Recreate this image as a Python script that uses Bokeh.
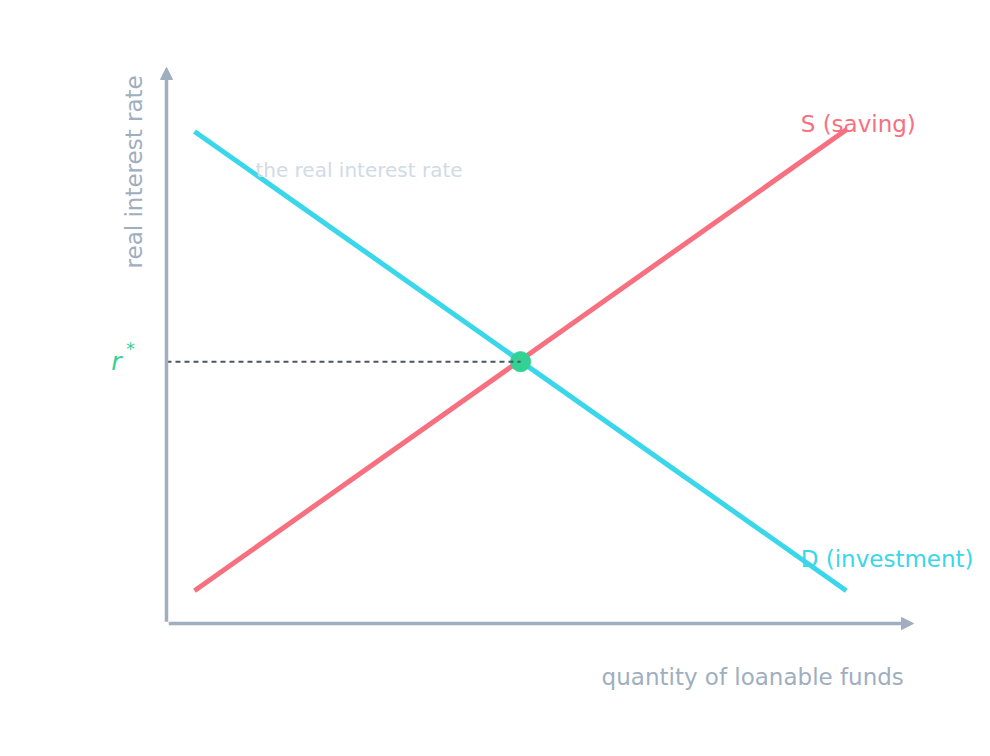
from bokeh.plotting import figure
from bokeh.models import Arrow, NormalHead, Range1d
from bokeh.core.properties import value
from bokeh.embed import file_html
from bokeh.resources import INLINE

# curva de poupança (S) e de investimento (D), unidades arbitrárias
q_curva = [3.75, 91.0]
r_saving = [5.9, 88.8]
r_investment = [88.5, 5.9]

# equilíbrio
q_eq = [47.4]
r_eq = [47.1]

eixo_x_max = 100.0
eixo_y_max = 100.0

cinza = "#a0aec0"
azul = "#3ad6ea"
vermelho = "#f7707f"
verde = "#33d194"

p = figure(width=976, height=740, output_backend="svg", toolbar_location=None,
           x_range=Range1d(-22.22, 108.43), y_range=Range1d(-21.04, 112.05),
           min_border=0, outline_line_color=None)
p.axis.visible = False
p.grid.visible = False

# eixos com setas
p.add_layout(Arrow(x_start=0.3, y_start=0, x_end=eixo_x_max, y_end=0,
                   line_color=cinza, line_width=3.5,
                   end=NormalHead(size=12, fill_color=cinza, line_color=cinza)))
p.add_layout(Arrow(x_start=0, y_start=0.3, x_end=0, y_end=eixo_y_max,
                   line_color=cinza, line_width=3.5,
                   end=NormalHead(size=12, fill_color=cinza, line_color=cinza)))

p.line(q_curva, r_investment, line_color=azul, line_width=5)
p.line(q_curva, r_saving, line_color=vermelho, line_width=5)

p.scatter(q_eq, r_eq, size=20, fill_color=verde, line_color=verde)
p.line([0, q_eq[0]], [r_eq[0], r_eq[0]], line_color="#4a5568", line_width=2, line_dash="5 4")

fonte = value("DejaVu Sans")

p.text([-4.4], [98.6], text=["real interest rate"], angle=1.5708, text_align="right",
       text_baseline="middle", text_font=fonte, text_font_size="23px", text_color=cinza)
p.text([98.7], [-9.7], text=["quantity of loanable funds"], text_align="right",
       text_baseline="middle", text_font=fonte, text_font_size="23px", text_color=cinza)
p.text([11.9], [81.5], text=["the real interest rate"], text_align="left",
       text_baseline="middle", text_font=fonte, text_font_size="20px", text_color="#d2dae6")
p.text([84.9], [89.85], text=["S (saving)"], text_align="left",
       text_baseline="middle", text_font=fonte, text_font_size="23px", text_color=vermelho)
p.text([84.9], [11.65], text=["D (investment)"], text_align="left",
       text_baseline="middle", text_font=fonte, text_font_size="23px", text_color=azul)

# r*
p.text([-7.4], [r_eq[0]], text=["r"], text_align="left", text_baseline="middle",
       text_font=fonte, text_font_size="25px", text_font_style="italic", text_color=verde)
p.text([-5.4], [r_eq[0] + 2.2], text=["*"], text_align="left", text_baseline="middle",
       text_font=fonte, text_font_size="17px", text_color=verde)

open("out.html", "w").write(file_html(p, INLINE))
